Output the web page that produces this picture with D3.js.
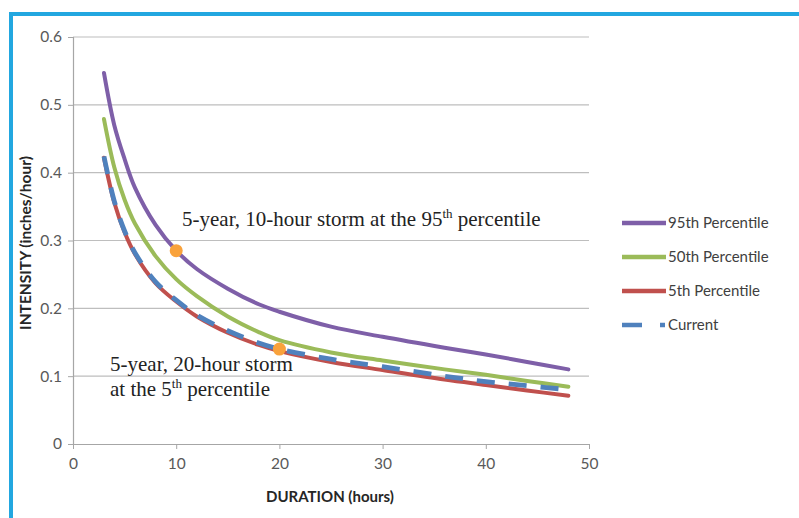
<!DOCTYPE html>
<html>
<head>
<meta charset="utf-8">
<script src="https://cdn.jsdelivr.net/npm/d3@7/dist/d3.min.js"></script>
<style>
  html, body { margin: 0; padding: 0; background: #fff; }
  svg { display: block; }
</style>
</head>
<body>
<svg id="chart" width="799" height="518"></svg>
<script>
// ---- data ----
const durations   = [3, 4, 5, 6, 8, 10, 12, 15, 18, 20, 25, 30, 36, 40, 44, 48];
const pct95       = [0.547, 0.470, 0.420, 0.378, 0.323, 0.285, 0.258, 0.229, 0.206, 0.195, 0.173, 0.158, 0.142, 0.132, 0.121, 0.110];
const pct50       = [0.479, 0.408, 0.360, 0.325, 0.277, 0.243, 0.218, 0.188, 0.165, 0.153, 0.135, 0.123, 0.110, 0.102, 0.093, 0.0845];
const pct5        = [0.422, 0.356, 0.312, 0.280, 0.237, 0.210, 0.188, 0.164, 0.146, 0.137, 0.121, 0.109, 0.095, 0.087, 0.079, 0.071];
const current     = [0.424, 0.358, 0.314, 0.282, 0.239, 0.212, 0.190, 0.167, 0.149, 0.140, 0.125, 0.114, 0.100, 0.092, 0.086, 0.080];
const seriesNames = ["95th Percentile", "50th Percentile", "5th Percentile", "Current"];
const xTicks = [0, 10, 20, 30, 40, 50];
const yTicks = [0, 0.1, 0.2, 0.3, 0.4, 0.5, 0.6];
const highlightX = [10, 20];
const highlightY = [0.285, 0.14];
const xTitle = "DURATION (hours)";
const yTitle = "INTENSITY (inches/hour)";

(function () {
// ---- layout ----
const svg = d3.select("#chart");
const mLeft = 73, mRight = 589, mTop = 37, mBottom = 444;
const x = d3.scaleLinear().domain([0, 50]).range([mLeft, mRight]);
const y = d3.scaleLinear().domain([0, 0.6]).range([mBottom, mTop]);

const colors = ["#7E5FA8", "#9BBB59", "#C0504D", "#4F81BD"];
const seriesVals = [pct95, pct50, pct5, current];
const sans = "Lato, 'Open Sans', sans-serif";

// frame (blue border top and left)
svg.append("rect").attr("x", 9).attr("y", 12).attr("width", 790).attr("height", 4).attr("fill", "#22A7E0");
svg.append("rect").attr("x", 9).attr("y", 12).attr("width", 4).attr("height", 506).attr("fill", "#22A7E0");

// gridlines
svg.append("g").selectAll("line").data(yTicks.filter(d => d > 0)).join("line")
  .attr("x1", mLeft).attr("x2", mRight)
  .attr("y1", d => y(d)).attr("y2", d => y(d))
  .attr("stroke", "#BEBEBE").attr("stroke-width", 1.2);

// y axis
const yAxis = d3.axisLeft(y).tickValues(yTicks).tickSize(5).tickPadding(6)
  .tickFormat(d => d === 0 ? "0" : d3.format(".1f")(d));
const gy = svg.append("g").attr("transform", `translate(${mLeft},0)`).call(yAxis);
gy.select(".domain").attr("stroke", "#A6A6A6").attr("stroke-width", 1.2);
gy.selectAll(".tick line").attr("stroke", "#A6A6A6");
gy.selectAll("text").attr("font-family", sans).attr("font-size", 15.5).attr("fill", "#595959");

// x axis
const xAxis = d3.axisBottom(x).tickValues(xTicks).tickSize(5).tickPadding(9).tickSizeOuter(0);
const gx = svg.append("g").attr("transform", `translate(0,${mBottom})`).call(xAxis);
gx.select(".domain").attr("stroke", "#A6A6A6").attr("stroke-width", 1.2);
gx.selectAll(".tick line").attr("stroke", "#A6A6A6");
gx.selectAll("text").attr("font-family", sans).attr("font-size", 15.5).attr("fill", "#595959");

// axis titles
svg.append("text").attr("x", 330).attr("y", 502).attr("text-anchor", "middle")
  .attr("font-family", sans).attr("font-weight", "bold").attr("font-size", 15)
  .attr("fill", "#262626").text(xTitle);
svg.append("text").attr("transform", "translate(31,243) rotate(-90)").attr("text-anchor", "middle")
  .attr("font-family", sans).attr("font-weight", "bold").attr("font-size", 15.5)
  .attr("fill", "#262626").text(yTitle);

// lines
const line = d3.line().x(d => x(d[0])).y(d => y(d[1])).curve(d3.curveCatmullRom.alpha(0.5));
seriesVals.forEach((vals, i) => {
  const pts = durations.map((t, j) => [t, vals[j]]);
  const p = svg.append("path").datum(pts).attr("d", line)
    .attr("fill", "none").attr("stroke", colors[i]).attr("stroke-width", i === 3 ? 4.8 : 4)
    .attr("stroke-linecap", "round");
  if (i === 3) p.attr("stroke-dasharray", "18,14").attr("stroke-linecap", "butt");
});

// highlight dots
svg.append("g").selectAll("circle").data(highlightX).join("circle")
  .attr("cx", d => x(d)).attr("cy", (d, i) => y(highlightY[i])).attr("r", 6.5)
  .attr("fill", "#F9A23B");

// annotations
const serif = "'Liberation Serif', 'Times New Roman', serif";
const fs = 21;
const a1 = svg.append("text").attr("x", 182).attr("y", 226).attr("font-family", serif).attr("font-size", fs).attr("fill", "#222");
a1.append("tspan").text("5-year, 10-hour storm at the 95");
a1.append("tspan").attr("dy", -8).attr("font-size", 13).text("th");
a1.append("tspan").attr("dy", 8).text(" percentile");

const a2 = svg.append("text").attr("x", 110).attr("y", 371).attr("font-family", serif).attr("font-size", fs).attr("fill", "#222");
a2.text("5-year, 20-hour storm");
const a3 = svg.append("text").attr("x", 110).attr("y", 396).attr("font-family", serif).attr("font-size", fs).attr("fill", "#222");
a3.append("tspan").text("at the 5");
a3.append("tspan").attr("dy", -8).attr("font-size", 13).text("th");
a3.append("tspan").attr("dy", 8).text(" percentile");

// legend
const legY = [223, 257, 291, 325];
const leg = svg.append("g");
seriesNames.forEach((name, i) => {
  const l = leg.append("line").attr("x1", 622).attr("x2", 666).attr("y1", legY[i]).attr("y2", legY[i])
    .attr("stroke", colors[i]).attr("stroke-width", 4.5);
  if (i === 3) l.attr("stroke-dasharray", "20,18,5,100");
  leg.append("text").attr("x", 668).attr("y", legY[i]).attr("dy", "0.35em")
    .attr("font-family", sans).attr("font-size", 15).attr("fill", "#404040").text(name);
});
})();
</script>
</body>
</html>
